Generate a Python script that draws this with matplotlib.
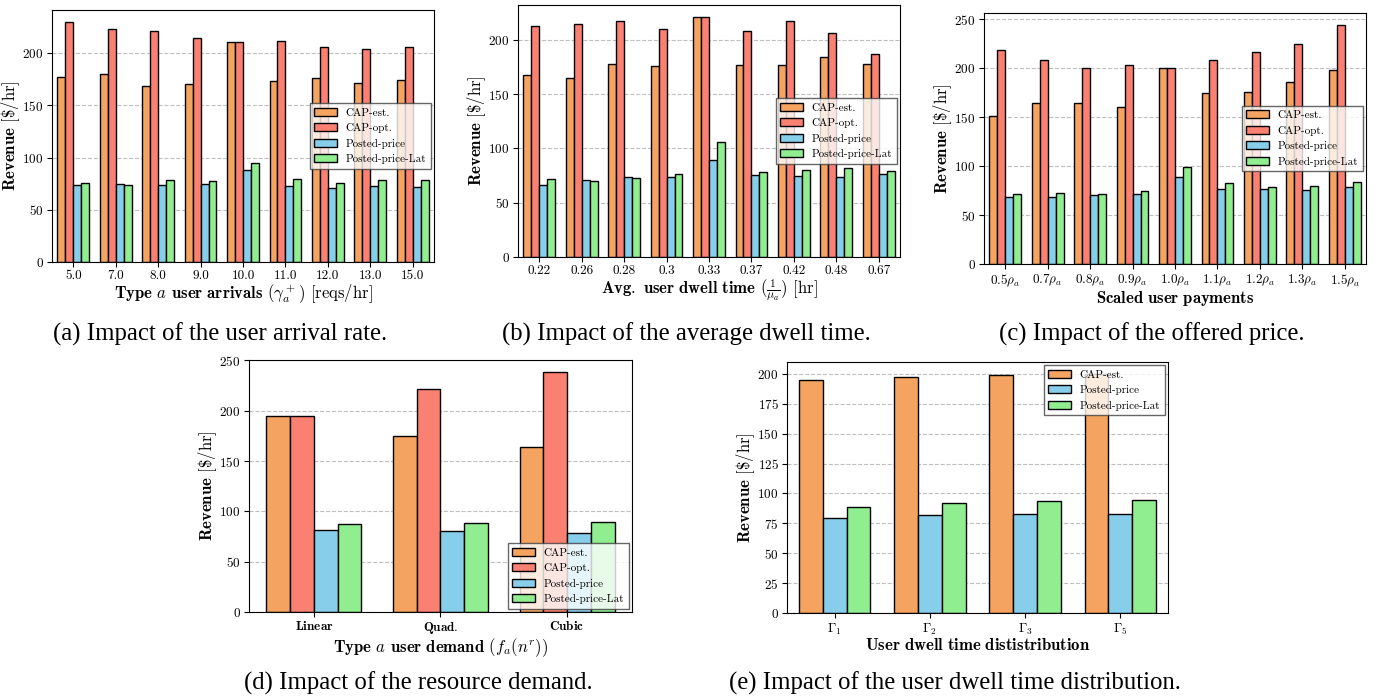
import numpy as np
import matplotlib
matplotlib.use('Agg')
import matplotlib.pyplot as plt
from matplotlib.ticker import MultipleLocator

plt.rcParams['font.family'] = 'serif'
plt.rcParams['font.serif'] = ['cmr10']
plt.rcParams['mathtext.fontset'] = 'cm'
plt.rcParams['axes.formatter.use_mathtext'] = True
plt.rcParams['axes.unicode_minus'] = False

# (a) user arrival rate
arr_labels = ['5.0', '7.0', '8.0', '9.0', '10.0', '11.0', '12.0', '13.0', '15.0']
arr_est = [177, 180, 169, 171, 211, 173, 176, 172, 174]
arr_opt = [230, 223, 221, 215, 211, 212, 206, 204, 206]
arr_pp = [73.5, 75, 73.5, 75, 88, 72.5, 71, 73, 72]
arr_lat = [76, 74, 79, 77.5, 95, 80, 75.5, 79, 78.5]

# (b) average dwell time
dwell_labels = ['0.22', '0.26', '0.28', '0.3', '0.33', '0.37', '0.42', '0.48', '0.67']
dwell_est = [168, 165, 178, 176, 221, 177, 177, 184, 178]
dwell_opt = [213, 215, 217, 210, 221, 208, 217, 206, 187]
dwell_pp = [66.5, 71, 73.5, 74, 89, 75.5, 75, 74, 76]
dwell_lat = [71.5, 70, 73, 76.5, 106, 78, 80, 82, 79.5]

# (c) offered price
price_labels = [r'$0.5\rho_a$', r'$0.7\rho_a$', r'$0.8\rho_a$', r'$0.9\rho_a$', r'$1.0\rho_a$',
                r'$1.1\rho_a$', r'$1.2\rho_a$', r'$1.3\rho_a$', r'$1.5\rho_a$']
price_est = [151, 164, 164.5, 160, 200.5, 174.5, 175.5, 186, 198]
price_opt = [218.5, 208, 200, 203, 200.5, 208.5, 216.5, 224.5, 244]
price_pp = [68.5, 68.5, 70, 71, 89, 77, 76.5, 76, 79]
price_lat = [71, 72.5, 71, 74.5, 99.5, 82.5, 79, 79.5, 83.5]

# (d) resource demand
dem_labels = [r'$\mathbf{Linear}$', r'$\mathbf{Quad.}$', r'$\mathbf{Cubic}$']
dem_est = [195, 175, 164]
dem_opt = [195, 222, 238.5]
dem_pp = [81, 80, 78.5]
dem_lat = [87.5, 88.5, 89.5]

# (e) dwell time distribution
dist_labels = [r'$\Gamma_1$', r'$\Gamma_2$', r'$\Gamma_3$', r'$\Gamma_5$']
dist_est = [194.7, 197.2, 199.2, 200]
dist_pp = [79.5, 81.7, 82.8, 82.6]
dist_lat = [88.4, 91.8, 94, 94.6]

colors = {'CAP-est.': 'sandybrown', 'CAP-opt.': 'salmon',
          'Posted-price': 'skyblue', 'Posted-price-Lat': 'lightgreen'}

fig = plt.figure(figsize=(13.76, 6.96), dpi=100)


def make_axes(l, r, t, b):
    ax = fig.add_axes([l / 1376, 1 - b / 696, (r - l) / 1376, (b - t) / 696])
    ax.yaxis.set_label_coords(-30 / (r - l), 0.5)
    return ax


def grouped(ax, labels, series, xlabel, loc, tight=True):
    x = np.arange(len(labels))
    w = 0.75 / len(series)
    for i, (name, vals) in enumerate(series):
        ax.bar(x + (i - (len(series) - 1) / 2) * w, vals, w, label=name,
               color=colors[name], edgecolor='black', linewidth=1.0)
    ax.set_xticks(x)
    ax.set_xticklabels(labels)
    if tight:
        ax.set_xlim(-0.5, len(labels) - 0.5)
    ax.set_axisbelow(True)
    ax.yaxis.grid(True, linestyle='--', color='0.75', linewidth=0.8)
    ax.tick_params(labelsize=9.5, pad=2.5)
    ax.set_ylabel(r'$\mathbf{Revenue}$ [\$/hr]', fontsize=12)
    ax.set_xlabel(xlabel, fontsize=12, labelpad=0)
    ax.legend(loc=loc, fontsize=8, fancybox=False, edgecolor='0.25',
              framealpha=0.8, borderaxespad=0.3)


ax = make_axes(52, 434, 10, 262)
grouped(ax, arr_labels, [('CAP-est.', arr_est), ('CAP-opt.', arr_opt),
                         ('Posted-price', arr_pp), ('Posted-price-Lat', arr_lat)],
        r'$\mathbf{Type}$ $a$ $\mathbf{user\ arrivals}$ $(\gamma_a^+)$ [reqs/hr]', 'center right')

ax = make_axes(518, 900, 5, 257)
grouped(ax, dwell_labels, [('CAP-est.', dwell_est), ('CAP-opt.', dwell_opt),
                           ('Posted-price', dwell_pp), ('Posted-price-Lat', dwell_lat)],
        r'$\mathbf{Avg.\ user\ dwell\ time}$ $(\frac{1}{\mu_a})$ [hr]', 'center right')

ax = make_axes(984, 1366, 13, 264)
grouped(ax, price_labels, [('CAP-est.', price_est), ('CAP-opt.', price_opt),
                           ('Posted-price', price_pp), ('Posted-price-Lat', price_lat)],
        r'$\mathbf{Scaled\ user\ payments}$', 'center right')

ax = make_axes(249, 632, 360, 612)
grouped(ax, dem_labels, [('CAP-est.', dem_est), ('CAP-opt.', dem_opt),
                         ('Posted-price', dem_pp), ('Posted-price-Lat', dem_lat)],
        r'$\mathbf{Type}$ $a$ $\mathbf{user\ demand}$ $(f_a(n^r))$', 'lower right', tight=False)

ax = make_axes(787, 1168, 362, 613)
grouped(ax, dist_labels, [('CAP-est.', dist_est), ('Posted-price', dist_pp),
                          ('Posted-price-Lat', dist_lat)],
        r'$\mathbf{User\ dwell\ time\ dististribution}$', 'upper right')
ax.yaxis.set_major_locator(MultipleLocator(25))

captions = [('(a) Impact of the user arrival rate.', 220, 334),
            ('(b) Impact of the average dwell time.', 686, 334),
            ('(c) Impact of the offered price.', 1152, 334),
            ('(d) Impact of the resource demand.', 418, 683),
            ('(e) Impact of the user dwell time distribution.', 955, 683)]
for txt, cx, cy in captions:
    fig.text(cx / 1376, 1 - cy / 696, txt, ha='center', va='center',
             fontsize=17.8, family='Liberation Serif')

fig.savefig('out.png', dpi=100)
